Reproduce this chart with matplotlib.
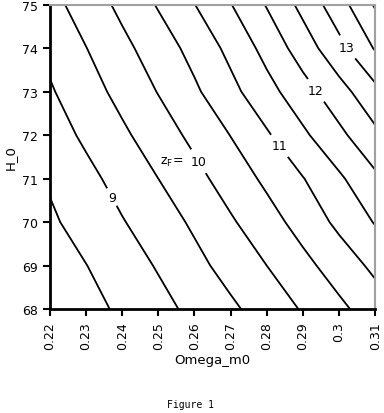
import numpy as np
import matplotlib
matplotlib.use("Agg")
import matplotlib.pyplot as plt

# grid
omega_m0 = [0.22, 0.23, 0.24, 0.25, 0.26, 0.27, 0.28, 0.29, 0.30, 0.31]
h0 = [68, 69, 70, 71, 72, 73, 74, 75]

# zF at each (H_0, Omega_m0) node, one row per H_0
zf_68 = [8.07, 8.33, 8.59, 8.85, 9.12, 9.41, 9.72, 10.04, 10.39, 10.75]
zf_69 = [8.22, 8.49, 8.77, 9.04, 9.36, 9.68, 10.00, 10.36, 10.73, 11.11]
zf_70 = [8.42, 8.70, 8.97, 9.26, 9.58, 9.94, 10.30, 10.69, 11.11, 11.53]
zf_71 = [8.56, 8.86, 9.18, 9.50, 9.85, 10.22, 10.60, 10.98, 11.42, 11.90]
zf_72 = [8.76, 9.09, 9.41, 9.76, 10.12, 10.51, 10.94, 11.41, 11.88, 12.39]
zf_73 = [8.95, 9.29, 9.65, 10.02, 10.42, 10.86, 11.33, 11.80, 12.31, 12.86]
zf_74 = [9.12, 9.49, 9.87, 10.25, 10.66, 11.13, 11.66, 12.24, 12.85, 13.54]
zf_75 = [9.34, 9.72, 10.12, 10.54, 10.99, 11.48, 12.03, 12.64, 13.29, 14.05]

half_levels = [8.5, 9.5, 10.5, 11.5, 12.5, 13.5]
whole_levels = [9, 10, 11, 12, 13, 14]
xtick_labels = ["0.22", "0.23", "0.24", "0.25", "0.26", "0.27", "0.28", "0.29", "0.3", "0.31"]

Z = np.array([zf_68, zf_69, zf_70, zf_71, zf_72, zf_73, zf_74, zf_75])

fig = plt.figure(figsize=(3.84, 4.14), dpi=100)
ax = fig.add_axes([0.130, 0.251, 0.847, 0.735])

ax.contour(omega_m0, h0, Z, levels=half_levels, colors="black", linewidths=1.3)
cs = ax.contour(omega_m0, h0, Z, levels=whole_levels, colors="black", linewidths=1.3)

# where the labels sit on their lines (14 stays unlabelled)
label_spots = [(0.2372, 70.58), (0.2613, 71.41), (0.2831, 71.73), (0.2934, 73.02), (0.3031, 74.06)]
texts = ax.clabel(cs, manual=label_spots, fmt="%d", inline=True, inline_spacing=6, fontsize=9)
for t in texts:
    t.set_rotation(0)  # labels are upright in the original
ax.text(0.2570, 71.39, r"z$_\mathrm{F}$=", ha="right", va="center", fontsize=9)

ax.set_xlim(0.22, 0.31)
ax.set_ylim(68, 75)
ax.set_xticks(omega_m0)
ax.set_xticklabels(xtick_labels, rotation=90)
ax.set_yticks(h0)
ax.tick_params(direction="out", length=5, width=1.5, labelsize=9)

for side in ["left", "bottom"]:
    ax.spines[side].set_linewidth(2)
    ax.spines[side].set_color("black")
for side in ["top", "right"]:
    ax.spines[side].set_linewidth(1.5)
    ax.spines[side].set_color("#a0a0a0")

ax.set_xlabel("Omega_m0", fontsize=9.5, labelpad=3)
ax.set_ylabel("H_0", fontsize=9.5, labelpad=4)

fig.text(0.495, 0.022, "Figure 1", ha="center", va="center", fontsize=7,
         family="DejaVu Sans Mono")

plt.savefig("out.png", dpi=100)
